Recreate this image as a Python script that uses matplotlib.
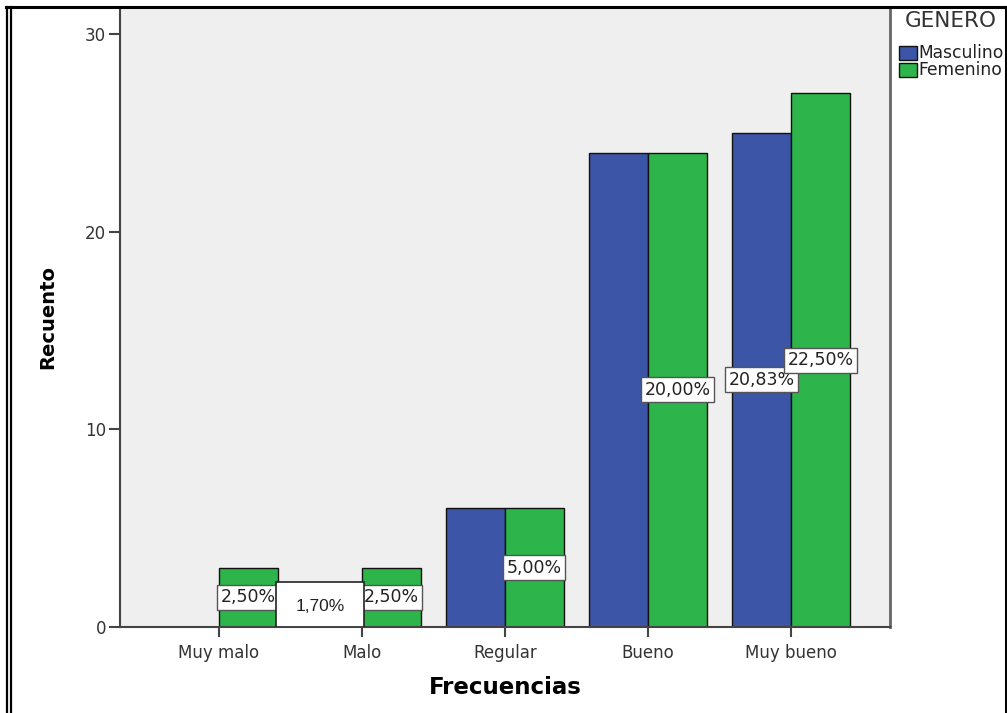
import matplotlib
matplotlib.use("Agg")
import matplotlib.pyplot as plt
from matplotlib.patches import Rectangle
from matplotlib.lines import Line2D
import numpy as np

plt.rcParams['font.family'] = ['DejaVu Sans']

categories = ["Muy malo", "Malo", "Regular", "Bueno", "Muy bueno"]
masculino = [0, 0, 6, 24, 25]
femenino = [3, 3, 6, 24, 27]
labels_masc = [None, None, None, None, "20,83%"]
labels_fem = ["2,50%", "2,50%", "5,00%", "20,00%", "22,50%"]
extra_label = "1,70%"
series_names = ["Masculino", "Femenino"]
legend_title = "GENERO"
yticks = [0, 10, 20, 30]

BLUE = "#3C55A6"
GREEN = "#2DB54B"
BG = "#EFEFEF"

W, H = 1007, 713
fig = plt.figure(figsize=(W / 100, H / 100), dpi=100)

ax_l, ax_r, ax_t, ax_b = 120, 890, 8, 627
ax = fig.add_axes([ax_l / W, 1 - ax_b / H, (ax_r - ax_l) / W, (ax_b - ax_t) / H])
ax.set_facecolor(BG)

x = np.arange(len(categories))
bw = 0.412
bars_m = ax.bar(x - bw / 2, masculino, bw, color=BLUE, edgecolor="#111111", linewidth=1.0, zorder=2)
bars_f = ax.bar(x + bw / 2, femenino, bw, color=GREEN, edgecolor="#111111", linewidth=1.0, zorder=2)

box_kw = dict(boxstyle="square,pad=0.2", facecolor="white", edgecolor="#555555", linewidth=1.0)
for bars, labs in ((bars_m, labels_masc), (bars_f, labels_fem)):
    for b, lab in zip(bars, labs):
        if lab is None:
            continue
        ax.text(b.get_x() + b.get_width() / 2, b.get_height() / 2, lab,
                ha="center", va="center", fontsize=12.5, color="#222222",
                bbox=box_kw, zorder=4)

# free-standing percentage box between the first two groups
cx, cy = 0.706, 1.15
bw_box, bh_box = 0.615, 2.3
ax.add_patch(Rectangle((cx - bw_box / 2, 0), bw_box, bh_box, facecolor="white",
                       edgecolor="#222222", linewidth=1.2, zorder=5))
ax.text(cx, cy - 0.12, extra_label, ha="center", va="center", fontsize=12.5,
        color="#222222", family="Liberation Sans", zorder=6)

ax.set_xlim(-0.692, 4.692)
ax.set_ylim(0, 31.31)
ax.set_yticks(yticks)
ax.set_yticklabels([str(v) for v in yticks], fontsize=12, color="#333333")
ax.set_xticks(x)
ax.set_xticklabels(categories, fontsize=12, color="#333333")
ax.tick_params(axis="y", direction="out", length=8, width=1.5, color="#444444", pad=2)
ax.tick_params(axis="x", direction="out", length=7, width=1.5, color="#444444", pad=5)

for side in ("left", "bottom"):
    ax.spines[side].set_color("#444444")
    ax.spines[side].set_linewidth(1.5)
ax.spines["top"].set_visible(False)
ax.spines["right"].set_color("#666666")
ax.spines["right"].set_linewidth(2.0)

ax.set_ylabel("Recuento", fontsize=14, fontweight="bold", labelpad=20)
ax.set_xlabel("Frecuencias", fontsize=16.5, fontweight="bold", labelpad=10)

# legend placed by hand to the right of the plot
fig.text(905 / W, 1 - 21 / H, legend_title, fontsize=15.5, color="#333333", va="center", ha="left")
for i, (name, col) in enumerate(zip(series_names, [BLUE, GREEN])):
    yc = 53 + i * 17
    fig.patches.append(Rectangle((899 / W, 1 - (yc + 7) / H), 18 / W, 14 / H,
                                 transform=fig.transFigure, facecolor=col,
                                 edgecolor="#111111", linewidth=1.0))
    fig.text(918 / W, 1 - yc / H, name, fontsize=12.3, color="#222222", va="center", ha="left")

# outer frame
frame = dict(transform=fig.transFigure, color="black", zorder=10)
fig.lines.append(Line2D([6 / W, 1], [1 - 7 / H, 1 - 7 / H], linewidth=2.2, **frame))
fig.lines.append(Line2D([7 / W, 7 / W], [0, 1 - 7 / H], linewidth=1.6, **frame))
fig.lines.append(Line2D([10.5 / W, 10.5 / W], [0, 1 - 7 / H], linewidth=1.6, **frame))
fig.lines.append(Line2D([1005.5 / W, 1005.5 / W], [0, 1 - 7 / H], linewidth=2.2, **frame))

fig.savefig("out.png", dpi=100)
